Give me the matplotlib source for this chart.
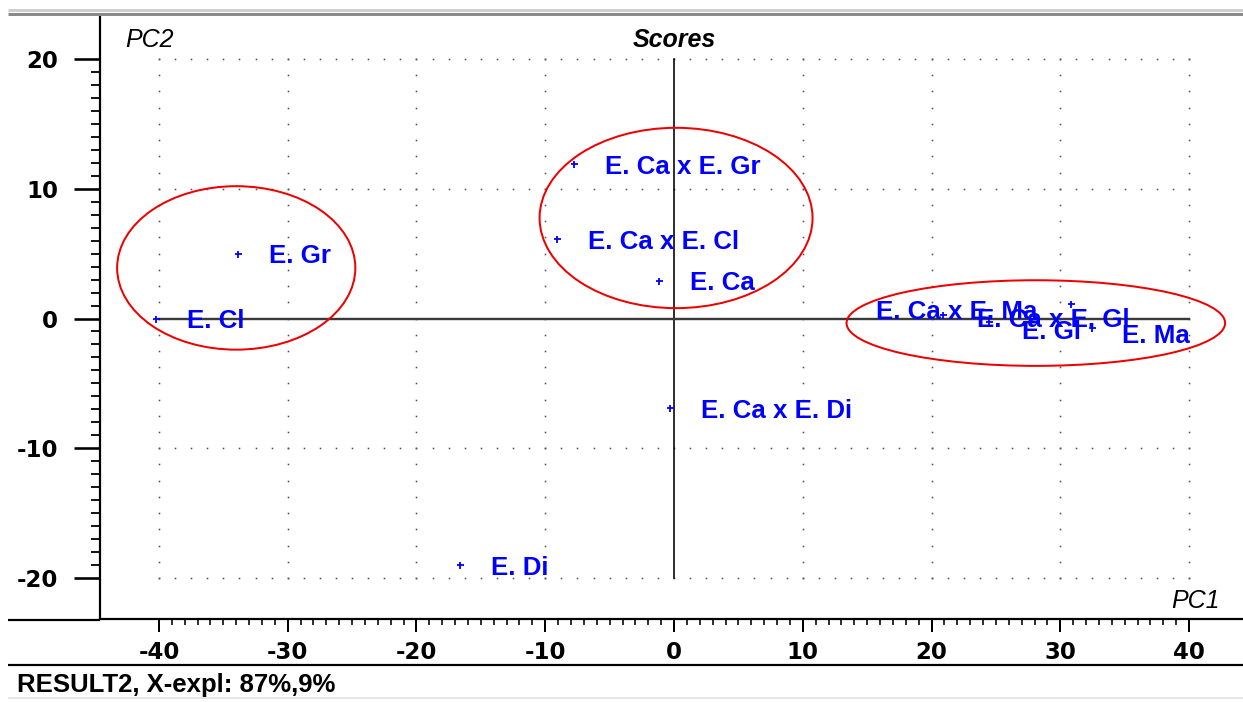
import numpy as np
import matplotlib
matplotlib.use("Agg")
import matplotlib.pyplot as plt
from matplotlib.lines import Line2D
from matplotlib.patches import Ellipse
from matplotlib.ticker import FixedLocator

plt.rcParams['axes.unicode_minus'] = False

# ---- data ----
labels = ["E. Cl", "E. Gr", "E. Ca x E. Gr", "E. Ca x E. Cl", "E. Ca",
          "E. Ca x E. Di", "E. Di", "E. Ca x E. Ma", "E. Ca x E. Gl",
          "E. Gl", "E. Ma"]
pc1 = [-40.2, -33.9, -7.8, -9.1, -1.2, -0.3, -16.6, 30.8, 20.9, 24.5, 32.5]
pc2 = [0.0, 5.0, 11.9, 6.1, 2.9, -6.9, -19.0, 1.1, 0.3, -0.3, -0.7]

x_ticks = [-40, -30, -20, -10, 0, 10, 20, 30, 40]
y_ticks = [-20, -10, 0, 10, 20]

# ellipses: (center x, center y, width, height)
ell_cx = [-34.0, 0.16, 28.1]
ell_cy = [3.9, 7.75, -0.35]
ell_w = [18.5, 21.2, 29.4]
ell_h = [12.6, 13.9, 6.6]

title = "Scores"
footer = "RESULT2, X-expl: 87%,9%"

# ---- layout ----
W, H = 1243, 702
DPI = 100
PT = 72.0 / DPI  # points per pixel

fig = plt.figure(figsize=(W / DPI, H / DPI), dpi=DPI)
fig.patch.set_facecolor('white')

def fx(px):
    return px / W

def fy(py):
    return 1 - py / H

ax = fig.add_axes([fx(100), fy(619), fx(1243) - fx(100), fy(17) - fy(619)])
ax.set_facecolor('white')
ax.set_xlim(-44.58, 44.19)
ax.set_ylim(-23.16, 23.24)

for s in ['top', 'right']:
    ax.spines[s].set_visible(False)
ax.spines['left'].set_linewidth(2.2 * PT)
ax.spines['bottom'].set_linewidth(2.2 * PT)

ax.xaxis.set_major_locator(FixedLocator(x_ticks))
ax.yaxis.set_major_locator(FixedLocator(y_ticks))
ax.xaxis.set_minor_locator(FixedLocator(np.arange(-40, 41, 1)))
ax.yaxis.set_minor_locator(FixedLocator(np.arange(-20, 21, 1)))
ax.set_xticklabels([str(v) for v in x_ticks])
ax.set_yticklabels([str(v) for v in y_ticks])

ax.tick_params(axis='x', which='major', direction='out', length=13 * PT,
               width=2 * PT, pad=9 * PT, labelsize=16.5)
ax.tick_params(axis='x', which='minor', direction='out', length=6 * PT,
               width=1.6 * PT)
ax.tick_params(axis='y', which='major', direction='out', length=26 * PT,
               width=2.6 * PT, pad=16 * PT, labelsize=16.5)
ax.tick_params(axis='y', which='minor', direction='out', length=9 * PT,
               width=1.8 * PT)
for lab in ax.get_xticklabels() + ax.get_yticklabels():
    lab.set_fontweight('bold')
    lab.set_family('DejaVu Sans')

# dotted grid
step = 1.25
gx = np.arange(-40, 40.001, step)
gy = np.arange(-20, 20.001, step)
for yv in [-20, -10, 10, 20]:
    ax.plot(gx, np.full_like(gx, yv), linestyle='none', marker='s',
            ms=1.6 * PT, color='#555555', mew=0, zorder=1)
for xv in x_ticks:
    if xv == 0:
        continue
    ax.plot(np.full_like(gy, xv), gy, linestyle='none', marker='s',
            ms=1.6 * PT, color='#555555', mew=0, zorder=1)

# crosshair
ax.plot([0, 0], [-20, 20], color='black', lw=1.6 * PT, zorder=2)
ax.plot([-40, 40], [0, 0], color='#3a3a3a', lw=2.4 * PT, zorder=2)

# points
ax.plot(pc1, pc2, linestyle='none', marker='+', ms=7 * PT, mew=1.8 * PT,
        color='#0000ff', zorder=4)

# label offsets in pixels (dx, dy downward) and alignment
offsets = {
    "E. Ca x E. Ma": (-33, 5, 'right'),
    "E. Ca x E. Gl": (34, 3, 'left'),
    "E. Gl": (33, 7, 'left'),
    "E. Ma": (30, 6, 'left'),
}
for lab, x, y in zip(labels, pc1, pc2):
    dx, dy, ha = offsets.get(lab, (31, 0, 'left'))
    ax.annotate(lab, (x, y), xytext=(dx * PT, -(dy + 9.5) * PT),
                textcoords='offset points', ha=ha, va='baseline',
                fontsize=18.6, fontweight='bold', family='Liberation Sans',
                color='#0000ff', zorder=5, annotation_clip=False)

# ellipses
for cx, cy, w, h in zip(ell_cx, ell_cy, ell_w, ell_h):
    ax.add_patch(Ellipse((cx, cy), w, h, fill=False, edgecolor='#ee0000',
                         lw=2.0 * PT, zorder=6))

# axis texts
fig.text(fx(125), fy(47), "PC2", fontsize=18, style='italic',
         family='Liberation Sans', ha='left', va='baseline')
fig.text(fx(674), fy(47), title, fontsize=18, style='italic',
         fontweight='bold', family='Liberation Sans', ha='center',
         va='baseline')
fig.text(fx(1220), fy(608), "PC1", fontsize=18, style='italic',
         family='Liberation Sans', ha='right', va='baseline')

# frame lines
def hline(py, x0, x1, color, lw):
    fig.add_artist(Line2D([fx(x0), fx(x1)], [fy(py), fy(py)],
                          transform=fig.transFigure, color=color,
                          lw=lw * PT, solid_capstyle='butt'))

hline(10, 8, 1243, '#cfcfcf', 3)
hline(13.5, 8, 1243, '#8a8a8a', 3)
hline(619.5, 8, 100, 'black', 2.2)
hline(665, 8, 1243, 'black', 2.2)
hline(698, 8, 1243, '#e6e6e6', 2)

fig.text(fx(17), fy(692), footer, fontsize=18.5, fontweight='bold',
         family='Liberation Sans', ha='left', va='baseline')

fig.savefig("out.png", dpi=DPI, facecolor='white')
